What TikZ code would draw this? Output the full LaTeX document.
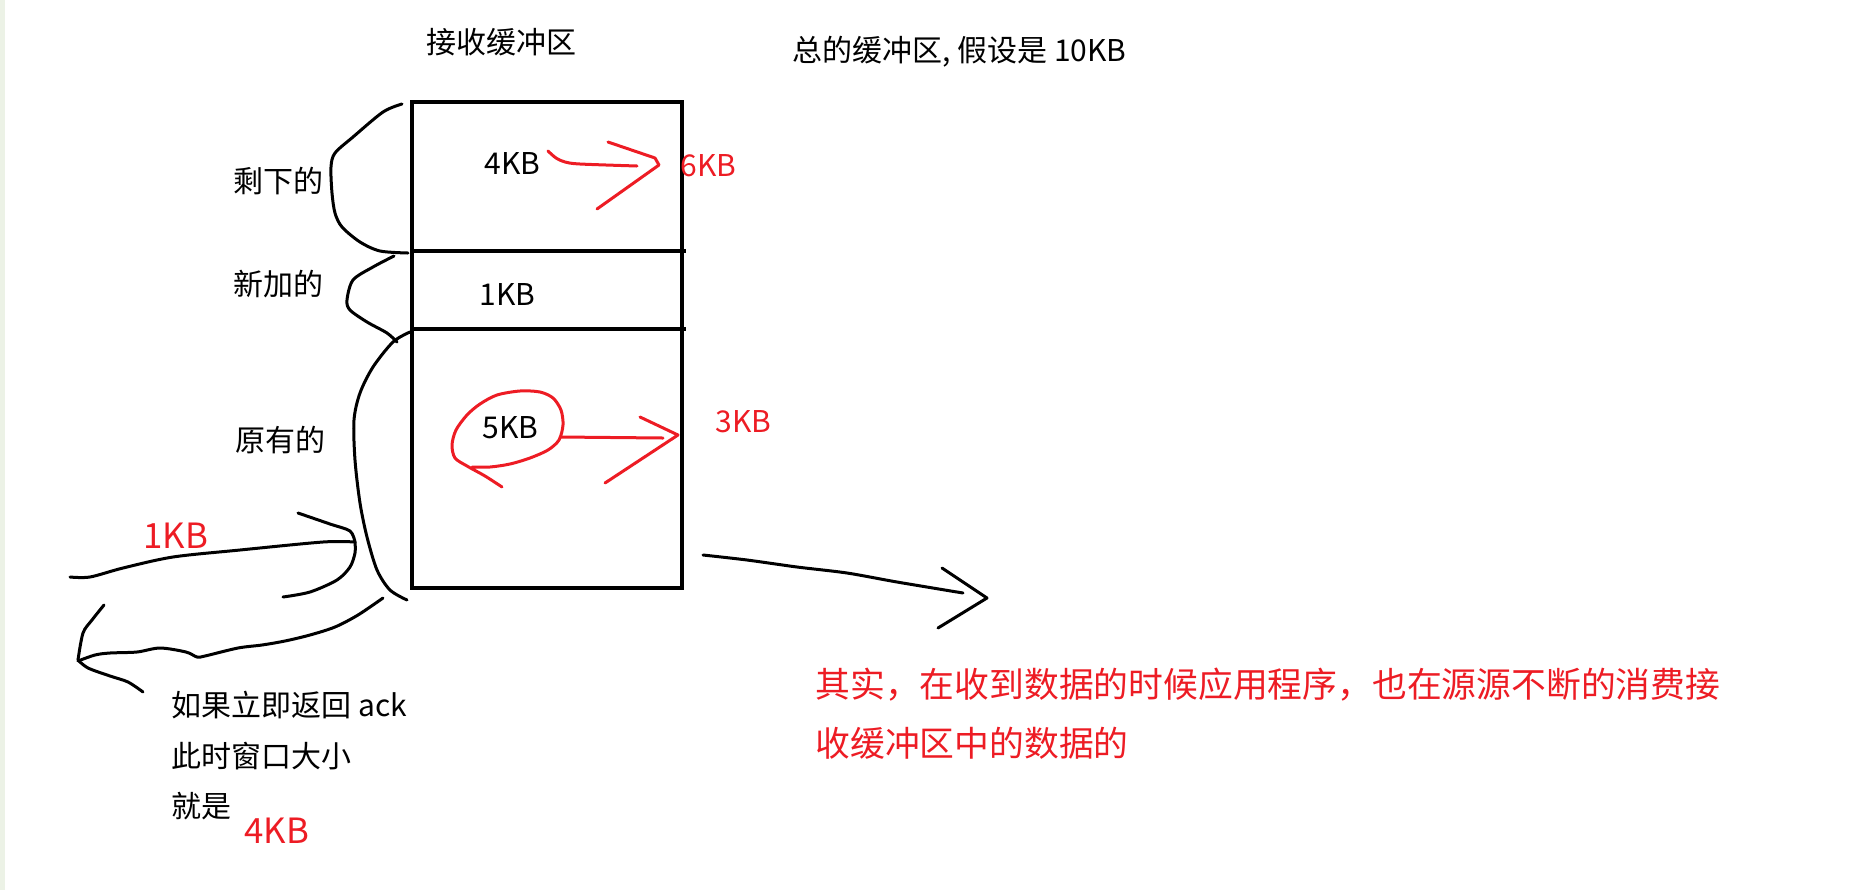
\documentclass[tikz,border=0pt]{standalone}
\usepackage{fontspec}
\setmainfont{Noto Sans CJK SC}
\definecolor{paintred}{RGB}{237,28,36}
\definecolor{edgegreen}{RGB}{236,242,230}

\begin{document}
\begin{tikzpicture}[x=0.5pt,y=-0.5pt,
  ink/.style={line width=1.5pt,line cap=round,line join=round},
  redink/.style={ink,draw=paintred},
  boxline/.style={line width=2.25pt},
  txt/.style={anchor=west,inner sep=0pt,font=\fontsize{15}{18}\selectfont},
  redtxt/.style={txt,text=paintred},
  bigred/.style={redtxt,font=\fontsize{17.4}{20}\selectfont}]
  \useasboundingbox (0,0) rectangle (1870,890);
  \fill[edgegreen] (0,0) rectangle (5,890);

  % Receive buffer
  \draw[boxline] (412,102) rectangle (682,588);
  \draw[boxline] (412,251) -- (686,251);
  \draw[boxline] (412,329) -- (686,329);
  \node[txt,anchor=center] (title) at (501,42) {接收缓冲区};
  \node[txt] (total) at (792,52) {总的缓冲区, 假设是 10KB};

  % Cell contents
  \node[txt] (remainsize) at (484,163) {4KB};
  \node[txt] (addedsize) at (479,294) {1KB};
  \node[txt] (origsize) at (482,428) {5KB};
  \node[redtxt] (remainnew) at (680,166) {6KB};
  \node[redtxt] (orignew) at (715,422) {3KB};

  % Braces on the left
  \node[txt] (remain) at (233,181) {剩下的};
  \node[txt] (added) at (233,284) {新加的};
  \node[txt] (orig) at (235,440) {原有的};
  \draw[ink] plot[smooth] coordinates {(402,104) (383,112) (353,137) (335,153) (331,167)
    (332,193) (335,213) (342,227) (360,242) (380,251) (408,253)};
  \draw[ink] plot[smooth] coordinates {(394,256) (373,267) (353,280) (347,300) (350,310)
    (367,322) (387,333) (397,342)};
  \draw[ink] plot[smooth] coordinates {(410,332) (393,342) (373,367) (360,393) (354,420)
    (355,460) (360,503) (367,537) (377,570) (390,590) (407,600)};

  % Incoming 1KB
  \node[bigred] (inkb) at (143,536) {1KB};
  \draw[ink] plot[smooth] coordinates {(70,577) (90,577) (123,568) (173,557) (240,550)
    (323,542) (355,542)};
  \draw[ink] plot[smooth] coordinates {(298,513) (330,524) (350,531) (355,542)};
  \draw[ink] plot[smooth] coordinates {(355,542) (355,553) (350,567) (337,580) (310,592) (283,597)};

  % Returned ack
  \draw[ink] plot[smooth] coordinates {(383,598) (358,615) (335,627) (310,635) (285,641)
    (262,645) (238,648) (205,656) (197,657) (186,652) (160,648) (137,652) (110,653)
    (95,655) (78,661)};
  \draw[ink] plot[smooth] coordinates {(104,605) (92,620) (83,633) (78,660)};
  \draw[ink] plot[smooth] coordinates {(78,660) (88,668) (110,676) (128,682) (143,692)};
  \node[txt] (ack1) at (171,705) {如果立即返回 ack};
  \node[txt] (ack2) at (171,756) {此时窗口大小};
  \node[txt] (ack3) at (171,806) {就是};
  \node[bigred] (winsize) at (244,831) {4KB};

  % Red changes
  \draw[redink] plot[smooth] coordinates {(548,151) (556,158) (565,162) (580,164) (637,166)};
  \draw[redink] (608,142) -- (655,158) -- (659,165) -- (597,209);
  \draw[redink] plot[smooth] coordinates {(502,487) (485,476) (467,466) (455,458) (452,445)
    (456,430) (467,415) (480,404) (497,395) (520,391) (540,392) (553,398) (561,410)
    (563,425) (559,440) (548,450) (530,458) (510,464) (490,467) (472,467)};
  \draw[redink] (560,437) -- (663,438);
  \draw[redink] (640,417) -- (678,435) -- (605,483);

  % Application consumes
  \draw[ink] plot[smooth] coordinates {(703,555) (747,560) (797,567) (847,573) (897,582) (963,593)};
  \draw[ink] (942,568) -- (987,598) -- (938,628);
  \node[bigred] (note1) at (815,685) {其实，在收到数据的时候应用程序，也在源源不断的消费接};
  \node[bigred] (note2) at (815,743) {收缓冲区中的数据的};
\end{tikzpicture}
\end{document}
